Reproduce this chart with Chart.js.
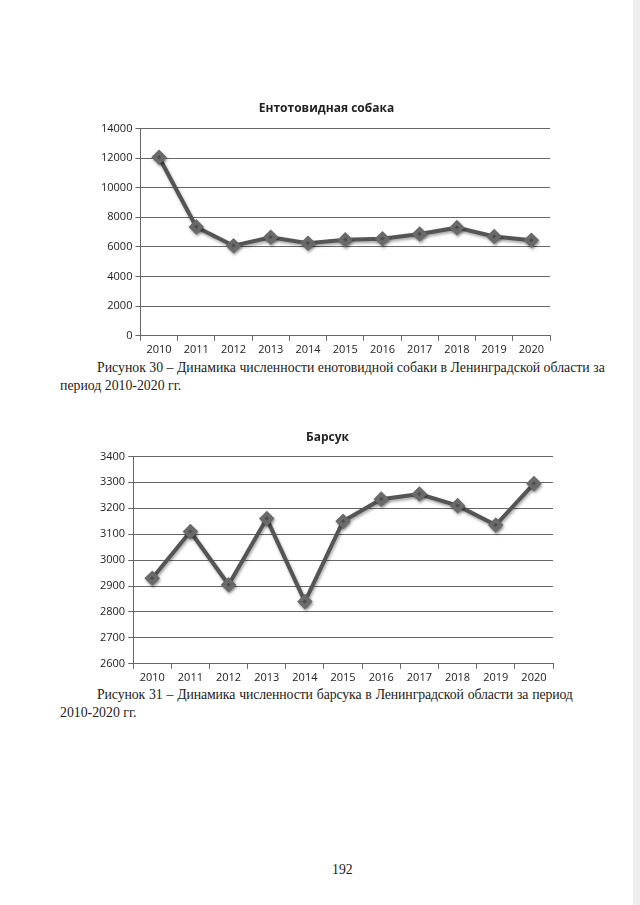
<!DOCTYPE html>
<html lang="ru">
<head>
  <meta charset="utf-8"/>
  <title>Страница 192</title>
  <script src="https://cdn.jsdelivr.net/npm/chart.js"></script>
  <style>
    body { margin: 0; background: #fff; width: 640px; height: 905px; position: relative; overflow: hidden; }
    .box { position: absolute; }
    #c1 { left: 82px; top: 97px; width: 477px; height: 261px; }
    #c2 { left: 76px; top: 426px; width: 486px; height: 260px; }
    .cap { position: absolute; font-family: "Liberation Serif", serif; font-size: 13.8px; color: #222; line-height: 18px; white-space: nowrap; }
    .edge { position: absolute; right: 0; top: 0; width: 7px; height: 905px; background: #eee; }
  </style>
</head>
<body>
  <div class="edge"></div>
  <div class="box" id="c1"><canvas id="chart1"></canvas></div>
  <div class="cap" style="left:97px; top:359px;">Рисунок 30 – Динамика численности енотовидной собаки в Ленинградской области за</div>
  <div class="cap" style="left:60px; top:377px;">период 2010-2020 гг.</div>

  <div class="box" id="c2"><canvas id="chart2"></canvas></div>
  <div class="cap" style="left:97px; top:686px; letter-spacing:-0.12px; word-spacing:0.6px;">Рисунок 31 – Динамика численности барсука в Ленинградской области за период</div>
  <div class="cap" style="left:60px; top:704px;">2010-2020 гг.</div>

  <div class="cap" style="left:332px; top:861px;">192</div>

<script>
var years = ['2010','2011','2012','2013','2014','2015','2016','2017','2018','2019','2020'];
var raccoonDog = [12050, 7350, 6080, 6650, 6250, 6480, 6550, 6870, 7300, 6700, 6450];
var badger = [2930, 3110, 2905, 3160, 2840, 3150, 3235, 3255, 3210, 3135, 3295];

var FONT = '"Open Sans", "Noto Sans", sans-serif';

// soft shadow under the line, like the Excel original
var shadowPlugin = {
  id: 'shadow',
  beforeDatasetsDraw: function (chart) {
    var ctx = chart.ctx;
    ctx.save();
    ctx.shadowColor = 'rgba(0,0,0,0.35)';
    ctx.shadowBlur = 3;
    ctx.shadowOffsetX = 1;
    ctx.shadowOffsetY = 2;
  },
  afterDatasetsDraw: function (chart) {
    chart.ctx.restore();
  }
};

function makeChart(id, title, values, min, max, step, padLeft, titleGap) {
  var ctx = document.getElementById(id).getContext('2d');
  return new Chart(ctx, {
    type: 'line',
    data: {
      labels: years,
      datasets: [{
        label: title,
        data: values,
        borderColor: '#555',
        borderWidth: 4,
        pointStyle: 'rectRot',
        pointRadius: 5,
        pointBackgroundColor: '#6a6a6a',
        pointBorderColor: '#6a6a6a',
        tension: 0
      }]
    },
    options: {
      responsive: true,
      maintainAspectRatio: false,
      animation: false,
      layout: { padding: { left: padLeft, right: 4, top: 0, bottom: 0 } },
      plugins: {
        legend: { display: false },
        tooltip: { enabled: false },
        title: {
          display: true,
          text: title,
          color: '#222',
          font: { family: FONT, size: 12, weight: 'bold' },
          padding: { top: 4, bottom: titleGap }
        }
      },
      scales: {
        x: {
          offset: true,
          grid: { offset: true, drawOnChartArea: false, color: '#666', tickLength: 5 },
          border: { color: '#666' },
          ticks: { color: '#222', font: { family: FONT, size: 11 }, maxRotation: 0, padding: 2 }
        },
        y: {
          min: min,
          max: max,
          grid: { color: '#666', tickLength: 5 },
          border: { color: '#666' },
          ticks: {
            stepSize: step, color: '#222', font: { family: FONT, size: 11 }, padding: 3,
            callback: function (v) { return String(v); }
          }
        }
      }
    },
    plugins: [shadowPlugin]
  });
}

window.onload = function () {
  makeChart('chart1', 'Ентотовидная собака', raccoonDog, 0, 14000, 2000, 16, 13);
  makeChart('chart2', 'Барсук', badger, 2600, 3400, 100, 21, 12);
};
</script>
</body>
</html>
